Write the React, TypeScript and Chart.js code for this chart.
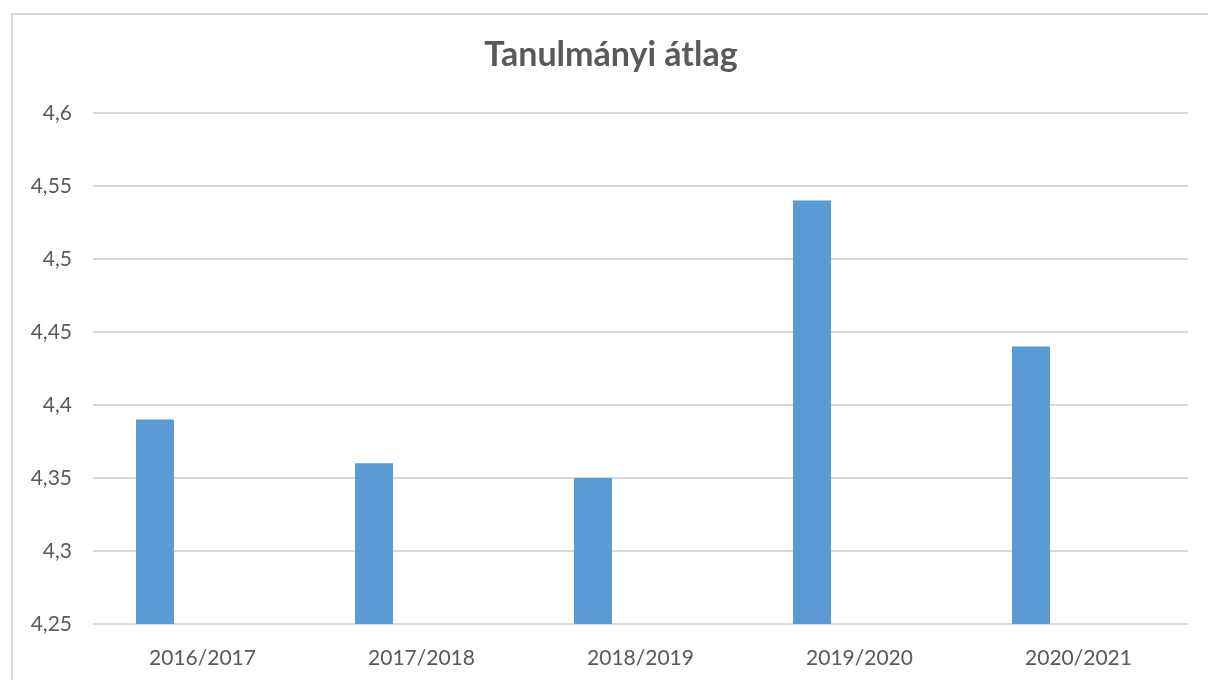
import React, { useEffect, useRef } from "react";
import { Chart, registerables } from "chart.js";

Chart.register(...registerables);

const categories: string[] = ["2016/2017", "2017/2018", "2018/2019", "2019/2020", "2020/2021"];
const averages: number[] = [4.39, 4.36, 4.35, 4.54, 4.44];
const emptySeries: (number | null)[] = [null, null, null, null, null];
const yMin = 4.25;
const yMax = 4.6;
const yStep = 0.05;
const titleText = "Tanulmányi átlag";

const fmt = (v: number) => String(Number(v.toFixed(2))).replace(".", ",");

// shift the title so it is centred over the whole framed chart box, as in the reference
const titleCentre = {
  id: "titleCentre",
  afterLayout(chart: any) {
    const tb = chart.titleBlock;
    if (tb) {
      tb.left = 34;
      tb.right = chart.chartArea.right;
    }
  },
};

export default function App() {
  const ref = useRef<HTMLCanvasElement | null>(null);

  useEffect(() => {
    if (!ref.current) return;
    const chart = new Chart(ref.current, {
      type: "bar",
      data: {
        labels: categories,
        datasets: [
          {
            label: "Átlag",
            data: averages,
            backgroundColor: "#5b9bd5",
            borderWidth: 0,
            categoryPercentage: 0.8676,
            barPercentage: 0.4,
          },
          {
            label: "",
            data: emptySeries,
            backgroundColor: "#ed7d31",
            borderWidth: 0,
            categoryPercentage: 0.8676,
            barPercentage: 0.4,
          },
        ],
      },
      plugins: [titleCentre],
      options: {
        responsive: false,
        animation: false,
        layout: { padding: { left: 0, right: 20, top: 0, bottom: 0 } },
        plugins: {
          legend: { display: false },
          tooltip: { enabled: false },
          title: {
            display: true,
            text: titleText,
            color: "#595959",
            font: { family: "Lato", size: 34, weight: "bold", lineHeight: 1.2 },
            padding: { top: 35, bottom: 37 },
          },
        },
        scales: {
          x: {
            grid: { display: false },
            border: { display: false },
            ticks: {
              color: "#595959",
              font: { family: "Lato", size: 21, lineHeight: 1.2 },
              padding: 14,
              maxRotation: 0,
            },
            afterFit: (s: any) => {
              s.height = 56;
            },
          },
          y: {
            min: yMin,
            max: yMax,
            border: { display: false },
            grid: { color: "#d9d9d9", lineWidth: 2, drawTicks: false },
            ticks: {
              stepSize: yStep,
              color: "#595959",
              font: { family: "Lato", size: 21 },
              padding: 21,
              callback: (v: any) => fmt(Number(v)),
            },
            afterFit: (s: any) => {
              s.width = 93;
            },
          },
        },
      },
    });
    return () => chart.destroy();
  }, []);

  return (
    <div style={{ position: "fixed", left: 0, top: 0, width: 1208, height: 680, overflow: "hidden", background: "#fff" }}>
      <div
        style={{
          position: "absolute",
          left: 11,
          top: 13,
          width: 1300,
          height: 800,
          borderLeft: "2px solid #d9d9d9",
          borderTop: "2px solid #d9d9d9",
        }}
      />
      <canvas ref={ref} width={1208} height={680} style={{ position: "absolute", left: 0, top: 0 }} />
    </div>
  );
}
